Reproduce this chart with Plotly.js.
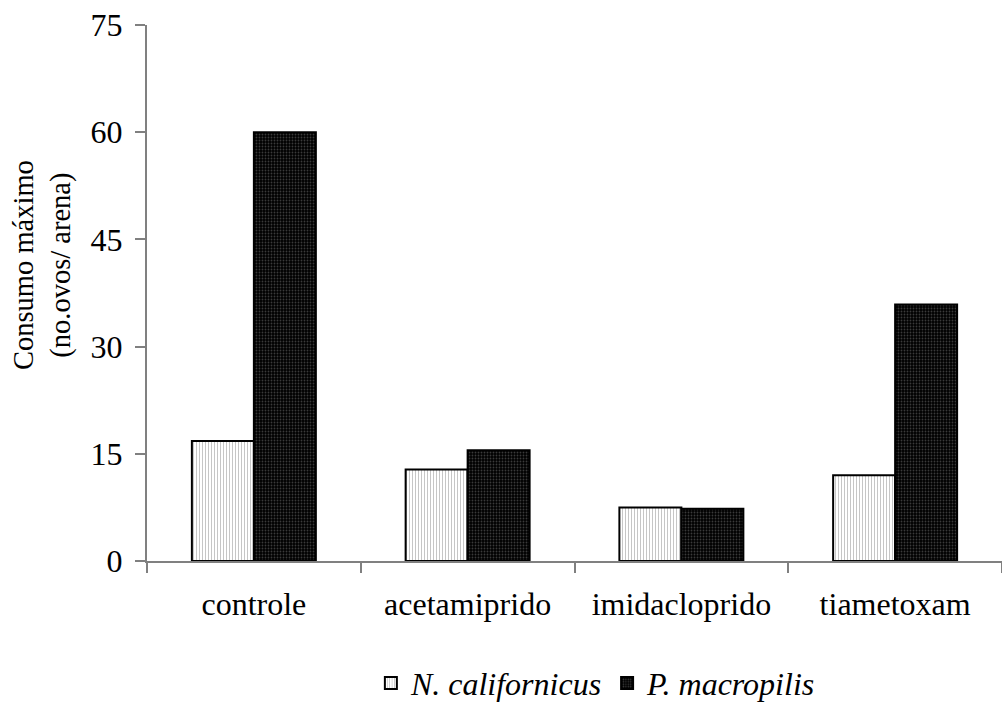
<!DOCTYPE html>
<html>
<head>
<meta charset="utf-8">
<script src="https://cdn.plot.ly/plotly-3.0.1.min.js"></script>
<style>html,body{margin:0;padding:0;background:#fff;overflow:hidden}</style>
</head>
<body>
<div id="chart" style="width:1002px;height:720px"></div>
<script>
const categories = ["controle", "acetamiprido", "imidacloprido", "tiametoxam"];
const nCalifornicus = [16.8, 12.8, 7.5, 12.0];
const pMacropilis = [60.0, 15.5, 7.3, 35.9];
const seriesNames = ["<i>N. californicus</i>", "<i>P. macropilis</i>"];
const yTicks = [0, 15, 30, 45, 60, 75];
const yTitle = "Consumo máximo<br>(no.ovos/ arena)";

const font = "Liberation Serif, Times New Roman, serif";

const traces = [
  {
    type: "bar", x: categories, y: nCalifornicus, name: seriesNames[0],
    marker: {color: "#ffffff", line: {color: "#000", width: 2},
      pattern: {shape: "|", fgcolor: "#c0c0c0", bgcolor: "#ffffff", size: 3, solidity: 0.3}}
  },
  {
    type: "bar", x: categories, y: pMacropilis, name: seriesNames[1],
    marker: {color: "#000000", line: {color: "#000", width: 2},
      pattern: {shape: ".", fgcolor: "#3a3a3a", bgcolor: "#000000", size: 3, solidity: 0.3}}
  }
];

const layout = {
  width: 1002, height: 720,
  margin: {l: 147, r: 0, t: 25, b: 159, pad: 0},
  paper_bgcolor: "#fff", plot_bgcolor: "#fff",
  font: {family: font, color: "#000", size: 32},
  barmode: "group", bargap: 0.42, bargroupgap: 0,
  showlegend: true,
  legend: {
    orientation: "h", x: 0.525, xanchor: "center", y: -0.228, yanchor: "middle",
    font: {family: font, size: 32, color: "#000"},
    itemwidth: 30, bgcolor: "rgba(0,0,0,0)"
  },
  xaxis: {
    type: "category", range: [-0.5, 3.5],
    showline: true, linecolor: "#808080", linewidth: 2,
    ticks: "outside", tickson: "boundaries", ticklen: 10, tickwidth: 2, tickcolor: "#808080",
    showgrid: false, zeroline: false, ticklabelstandoff: 14,
    tickfont: {family: font, size: 32, color: "#000"}
  },
  yaxis: {
    range: [0, 75], tickvals: yTicks,
    showline: true, linecolor: "#808080", linewidth: 2,
    ticks: "outside", ticklen: 10, tickwidth: 2, tickcolor: "#808080",
    showgrid: false, zeroline: false, ticklabelstandoff: 6,
    tickfont: {family: font, size: 32, color: "#000"}
  },
  annotations: [{
    text: yTitle, xref: "paper", yref: "paper",
    x: (42 - 147) / 855, y: (561 - 265) / 536, xanchor: "center", yanchor: "middle",
    textangle: -90, showarrow: false,
    font: {family: font, size: 28.5, color: "#000"}
  }]
};

Plotly.newPlot("chart", traces, layout, {displayModeBar: false, staticPlot: true});
</script>
</body>
</html>
